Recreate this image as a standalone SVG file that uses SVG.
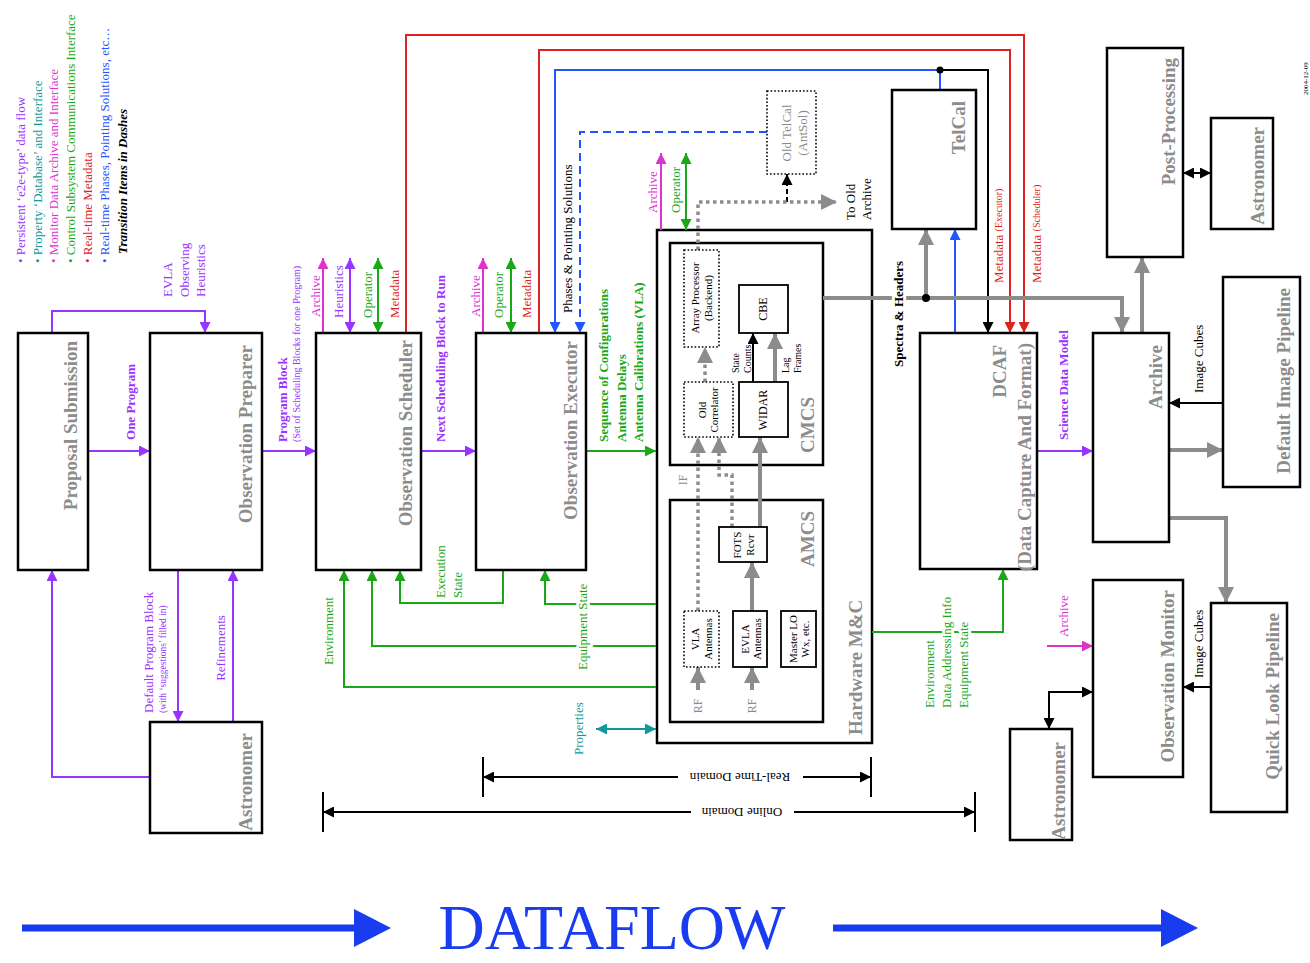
<svg xmlns="http://www.w3.org/2000/svg" width="1310" height="963" viewBox="0 0 1310 963">
<style>
text{font-family:"Liberation Serif","Times New Roman",serif}
.box{fill:#fff;stroke:#000;stroke-width:2.5}
.frame{fill:none;stroke:#000;stroke-width:2.5}
.sbox{fill:#fff;stroke:#000;stroke-width:1.8}
.dbox{fill:#fff;stroke:#000;stroke-width:1.6;stroke-dasharray:1.6 2}
.big{font-size:19px;font-weight:bold;fill:#8c8c8c}
.in{font-size:11px;fill:#000;text-anchor:middle}
.l{font-size:13px}
.b{font-weight:bold}
.s{font-size:10px}
.st{text-anchor:start}
.en{text-anchor:end}
.mid{text-anchor:middle}
.halo{paint-order:stroke;stroke:#fff;stroke-width:6px;stroke-linejoin:round}
.pu{fill:#9933ff}.mg{fill:#dd33cc}.gr{fill:#18a818}.rd{fill:#dd2222}.bl{fill:#2255ff}.tl{fill:#119999}.gy{fill:#8c8c8c}.bk{fill:#000}
.cp{fill:none;stroke:#9933ff;stroke-width:2}
.cm{fill:none;stroke:#dd33cc;stroke-width:2}
.cg{fill:none;stroke:#18a818;stroke-width:2}
.cr{fill:none;stroke:#dd2222;stroke-width:2}
.cb{fill:none;stroke:#2255ff;stroke-width:2}
.ck{fill:none;stroke:#000;stroke-width:2}
.ct{fill:none;stroke:#119999;stroke-width:2}
.cy{fill:none;stroke:#8c8c8c;stroke-width:4}
.cd{fill:none;stroke:#8c8c8c;stroke-width:3.5;stroke-dasharray:3.5 3.5}
</style>
<defs>
<marker id="ap" viewBox="0 0 10 10" refX="10" refY="5" markerWidth="11" markerHeight="11" markerUnits="userSpaceOnUse" orient="auto-start-reverse"><path d="M0,0L10,5L0,10z" fill="#9933ff"/></marker>
<marker id="am" viewBox="0 0 10 10" refX="10" refY="5" markerWidth="11" markerHeight="11" markerUnits="userSpaceOnUse" orient="auto-start-reverse"><path d="M0,0L10,5L0,10z" fill="#dd33cc"/></marker>
<marker id="ag" viewBox="0 0 10 10" refX="10" refY="5" markerWidth="11" markerHeight="11" markerUnits="userSpaceOnUse" orient="auto-start-reverse"><path d="M0,0L10,5L0,10z" fill="#18a818"/></marker>
<marker id="ar" viewBox="0 0 10 10" refX="10" refY="5" markerWidth="11" markerHeight="11" markerUnits="userSpaceOnUse" orient="auto-start-reverse"><path d="M0,0L10,5L0,10z" fill="#dd2222"/></marker>
<marker id="ab" viewBox="0 0 10 10" refX="10" refY="5" markerWidth="11" markerHeight="11" markerUnits="userSpaceOnUse" orient="auto-start-reverse"><path d="M0,0L10,5L0,10z" fill="#2255ff"/></marker>
<marker id="ak" viewBox="0 0 10 10" refX="10" refY="5" markerWidth="11" markerHeight="11" markerUnits="userSpaceOnUse" orient="auto-start-reverse"><path d="M0,0L10,5L0,10z" fill="#000"/></marker>
<marker id="at" viewBox="0 0 10 10" refX="10" refY="5" markerWidth="11" markerHeight="11" markerUnits="userSpaceOnUse" orient="auto-start-reverse"><path d="M0,0L10,5L0,10z" fill="#119999"/></marker>
<marker id="ay" viewBox="0 0 10 10" refX="10" refY="5" markerWidth="16" markerHeight="16" markerUnits="userSpaceOnUse" orient="auto-start-reverse"><path d="M0,0L10,5L0,10z" fill="#8c8c8c"/></marker>
</defs>
<rect width="1310" height="963" fill="#fff"/>

<g id="legend" class="l">
<text transform="translate(20,263) rotate(-90)" dominant-baseline="central" class="pu">• Persistent ‘e2e-type’ data flow</text>
<text transform="translate(37,263) rotate(-90)" dominant-baseline="central" class="tl">• Property ‘Database’ and Interface</text>
<text transform="translate(53,263) rotate(-90)" dominant-baseline="central" class="mg">• Monitor Data Archive and Interface</text>
<text transform="translate(70,263) rotate(-90)" dominant-baseline="central" class="gr">• Control Subsystem Communications Interface</text>
<text transform="translate(87,263) rotate(-90)" dominant-baseline="central" class="rd">• Real-time Metadata</text>
<text transform="translate(104,263) rotate(-90)" dominant-baseline="central" class="bl">• Real-time Phases, Pointing Solutions, etc…</text>
<text transform="translate(122,254) rotate(-90)" dominant-baseline="central" font-weight="bold" font-style="italic">Transition Items in Dashes</text>
<text transform="translate(1306,95) rotate(-90)" dominant-baseline="central" style="font-size:7px">2004-12-09</text>
</g>

<g id="hardware-mc">
<rect class="frame" x="657" y="230" width="215" height="513"/>
<text class="big" transform="translate(855,735) rotate(-90)" dominant-baseline="central">Hardware M&amp;C</text>
</g>
<g id="cmcs">
<rect class="frame" x="670" y="243" width="153" height="222"/>
<text class="big" transform="translate(807,453) rotate(-90)" dominant-baseline="central">CMCS</text>
</g>
<g id="amcs">
<rect class="frame" x="670" y="500" width="153" height="222"/>
<text class="big en" transform="translate(807,511) rotate(-90)" dominant-baseline="central">AMCS</text>
</g>

<g id="connectors">
<!-- purple -->
<path class="cp" d="M88,451H150" marker-end="url(#ap)"/>
<path class="cp" d="M52,333V311H205V333" marker-end="url(#ap)"/>
<path class="cp" d="M262,451H316" marker-end="url(#ap)"/>
<path class="cp" d="M421,451H476" marker-end="url(#ap)"/>
<path class="cp" d="M178,570V722" marker-end="url(#ap)"/>
<path class="cp" d="M233,722V570" marker-end="url(#ap)"/>
<path class="cp" d="M150,777H52V570" marker-end="url(#ap)"/>
<path class="cp" d="M1037,451H1093" marker-end="url(#ap)"/>
<path class="cp" d="M350,258V333" marker-start="url(#ap)" marker-end="url(#ap)"/>
<!-- magenta -->
<path class="cm" d="M323,333V258" marker-end="url(#am)"/>
<path class="cm" d="M483,333V258" marker-end="url(#am)"/>
<path class="cm" d="M661,230V153" marker-end="url(#am)"/>
<path class="cm" d="M1047,646H1093" marker-end="url(#am)"/>
<!-- green -->
<path class="cg" d="M378,258V333" marker-start="url(#ag)" marker-end="url(#ag)"/>
<path class="cg" d="M511,258V333" marker-start="url(#ag)" marker-end="url(#ag)"/>
<path class="cg" d="M686,153V230" marker-start="url(#ag)" marker-end="url(#ag)"/>
<path class="cg" d="M586,451H656" marker-end="url(#ag)"/>
<path class="cg" d="M656,604H545V570" marker-end="url(#ag)"/>
<path class="cg" d="M503,570V603H400V570" marker-end="url(#ag)"/>
<path class="cg" d="M656,646H372V570" marker-end="url(#ag)"/>
<path class="cg" d="M656,687H344V570" marker-end="url(#ag)"/>
<path class="cg" d="M872,632H1003V569" marker-end="url(#ag)"/>
<!-- red -->
<path class="cr" d="M406,333V35H1024V333" marker-end="url(#ar)"/>
<path class="cr" d="M539,333V50H1010V333" marker-end="url(#ar)"/>
<!-- blue -->
<path class="cb" d="M940,90V70H555V333" marker-end="url(#ab)"/>
<path class="cb" d="M955,333V229" marker-end="url(#ab)"/>
<path class="cb" d="M767,132H580V333" stroke-dasharray="8 5" marker-end="url(#ab)"/>
<!-- black -->
<path class="ck" d="M940,70H988V333" marker-end="url(#ak)"/>
<circle cx="940" cy="70" r="3.5" fill="#000"/>
<path class="ck" d="M787,202V174" stroke-dasharray="5 3" marker-end="url(#ak)"/>
<path class="ck" d="M1223,403H1169" marker-end="url(#ak)"/>
<path class="ck" d="M1183,173H1211" marker-start="url(#ak)" marker-end="url(#ak)"/>
<path class="ck" d="M1211,687H1183" marker-end="url(#ak)"/>
<path class="ck" d="M1093,692H1049V729" marker-start="url(#ak)" marker-end="url(#ak)"/>
<path class="ck" d="M753,382V333" marker-end="url(#ak)"/>
<!-- teal -->
<path class="ct" d="M596,729H656" marker-start="url(#at)" marker-end="url(#at)"/>
<!-- gray data paths -->
<path class="cy" d="M823,298H1122V333" marker-end="url(#ay)"/>
<path class="cy" d="M926,298V229" marker-end="url(#ay)"/>
<circle cx="926" cy="298" r="4" fill="#000"/>
<path class="cy" d="M1142,333V257" marker-end="url(#ay)"/>
<path class="cy" d="M1169,450H1223" marker-end="url(#ay)"/>
<path class="cy" d="M1169,518H1226V603" marker-end="url(#ay)"/>
<path class="cy" d="M760,527V437" marker-end="url(#ay)"/>
<path class="cy" d="M752,611V562" marker-end="url(#ay)"/>
<path class="cy" d="M775,382V333" marker-end="url(#ay)"/>
<path class="cy" d="M698,690V667" marker-end="url(#ay)"/>
<path class="cy" d="M752,690V667" marker-end="url(#ay)"/>
<path class="cd" d="M698,611V437" marker-end="url(#ay)"/>
<path class="cd" d="M732,527V475H719V437" marker-end="url(#ay)"/>
<path class="cd" d="M705,382V347" marker-end="url(#ay)"/>
<path class="cd" d="M698,250V202H837" marker-end="url(#ay)"/>
<!-- dimension lines -->
<path class="ck" d="M678,777H483" marker-end="url(#ak)"/>
<path class="ck" d="M803,777H871" marker-end="url(#ak)"/>
<path class="ck" d="M483,757V797M871,757V797"/>
<path class="ck" d="M691,812H323" marker-end="url(#ak)"/>
<path class="ck" d="M794,812H975" marker-end="url(#ak)"/>
<path class="ck" d="M323,792V832M975,792V832"/>
</g>

<g id="labels" class="l">
<text transform="translate(130,402) rotate(-90)" dominant-baseline="central" class="pu b mid">One Program</text>
<text transform="translate(167,297) rotate(-90)" dominant-baseline="central" class="pu">EVLA</text>
<text transform="translate(184,297) rotate(-90)" dominant-baseline="central" class="pu">Observing</text>
<text transform="translate(200,297) rotate(-90)" dominant-baseline="central" class="pu">Heuristics</text>
<text transform="translate(282,442) rotate(-90)" dominant-baseline="central" class="pu b">Program Block</text>
<text transform="translate(296,442) rotate(-90)" dominant-baseline="central" class="pu s">(Set of Scheduling Blocks for one Program)</text>
<text transform="translate(440,442) rotate(-90)" dominant-baseline="central" class="pu b">Next Scheduling Block to Run</text>
<text transform="translate(315,317) rotate(-90)" dominant-baseline="central" class="mg">Archive</text>
<text transform="translate(338,318) rotate(-90)" dominant-baseline="central" class="pu">Heuristics</text>
<text transform="translate(367,318) rotate(-90)" dominant-baseline="central" class="gr">Operator</text>
<text transform="translate(394,318) rotate(-90)" dominant-baseline="central" class="rd">Metadata</text>
<text transform="translate(475,317) rotate(-90)" dominant-baseline="central" class="mg">Archive</text>
<text transform="translate(498,318) rotate(-90)" dominant-baseline="central" class="gr">Operator</text>
<text transform="translate(526,318) rotate(-90)" dominant-baseline="central" class="rd">Metadata</text>
<text transform="translate(567,313) rotate(-90)" dominant-baseline="central" class="bk">Phases &amp; Pointing Solutions</text>
<text transform="translate(603,442) rotate(-90)" dominant-baseline="central" class="gr b">Sequence of Configurations</text>
<text transform="translate(621,442) rotate(-90)" dominant-baseline="central" class="gr b">Antenna Delays</text>
<text transform="translate(638,442) rotate(-90)" dominant-baseline="central" class="gr b">Antenna Calibrations (VLA)</text>
<text transform="translate(652,213) rotate(-90)" dominant-baseline="central" class="mg">Archive</text>
<text transform="translate(675,213) rotate(-90)" dominant-baseline="central" class="gr">Operator</text>
<text transform="translate(850,220) rotate(-90)" dominant-baseline="central" class="bk">To Old</text>
<text transform="translate(866,220) rotate(-90)" dominant-baseline="central" class="bk">Archive</text>
<text transform="translate(898,367) rotate(-90)" dominant-baseline="central" class="bk b halo">Spectra &amp; Headers</text>
<text transform="translate(998,283) rotate(-90)" dominant-baseline="central" class="rd">Metadata <tspan style="font-size:10px">(Executor)</tspan></text>
<text transform="translate(1036,283) rotate(-90)" dominant-baseline="central" class="rd">Metadata <tspan style="font-size:10px">(Scheduler)</tspan></text>
<text transform="translate(1063,440) rotate(-90)" dominant-baseline="central" class="pu b">Science Data Model</text>
<text transform="translate(1198,393) rotate(-90)" dominant-baseline="central" class="bk">Image Cubes</text>
<text transform="translate(1198,678) rotate(-90)" dominant-baseline="central" class="bk">Image Cubes</text>
<text transform="translate(1063,637) rotate(-90)" dominant-baseline="central" class="mg">Archive</text>
<text transform="translate(929,708) rotate(-90)" dominant-baseline="central" class="gr halo">Environment</text>
<text transform="translate(946,708) rotate(-90)" dominant-baseline="central" class="gr halo">Data Addressing Info</text>
<text transform="translate(963,708) rotate(-90)" dominant-baseline="central" class="gr halo">Equipment State</text>
<text transform="translate(148,713) rotate(-90)" dominant-baseline="central" class="pu">Default Program Block</text>
<text transform="translate(163,713) rotate(-90)" dominant-baseline="central" class="pu" style="font-size:9.5px">(with ‘suggestions’ filled in)</text>
<text transform="translate(220,648) rotate(-90)" dominant-baseline="central" class="pu mid">Refinements</text>
<text transform="translate(328,665) rotate(-90)" dominant-baseline="central" class="gr">Environment</text>
<text transform="translate(440,598) rotate(-90)" dominant-baseline="central" class="gr">Execution</text>
<text transform="translate(457,598) rotate(-90)" dominant-baseline="central" class="gr">State</text>
<text transform="translate(582,670) rotate(-90)" dominant-baseline="central" class="gr halo">Equipment State</text>
<text transform="translate(578,755) rotate(-90)" dominant-baseline="central" class="tl">Properties</text>
<text transform="translate(740,777) rotate(180)" dominant-baseline="central" class="bk mid">Real-Time Domain</text>
<text transform="translate(742,812) rotate(180)" dominant-baseline="central" class="bk mid">Online Domain</text>
<text transform="translate(683,480) rotate(-90)" dominant-baseline="central" class="gy mid" style="font-size:12px">IF</text>
<text transform="translate(698,706) rotate(-90)" dominant-baseline="central" class="gy mid" style="font-size:12px">RF</text>
<text transform="translate(752,706) rotate(-90)" dominant-baseline="central" class="gy mid" style="font-size:12px">RF</text>
<text transform="translate(735,373) rotate(-90)" dominant-baseline="central" class="bk s">State</text>
<text transform="translate(747,373) rotate(-90)" dominant-baseline="central" class="bk s">Counts</text>
<text transform="translate(785,373) rotate(-90)" dominant-baseline="central" class="bk s">Lag</text>
<text transform="translate(797,373) rotate(-90)" dominant-baseline="central" class="bk s">Frames</text>
</g>

<g id="array-processor">
<rect class="dbox" x="684" y="250" width="35" height="97"/>
<text class="in" transform="translate(695,298) rotate(-90)" dominant-baseline="central">Array Processor</text>
<text class="in" transform="translate(708,298) rotate(-90)" dominant-baseline="central">(Backend)</text>
</g>
<g id="cbe">
<rect class="sbox" x="739" y="285" width="49" height="48"/>
<text class="in" style="font-size:12px" transform="translate(763,309) rotate(-90)" dominant-baseline="central">CBE</text>
</g>
<g id="old-correlator">
<rect class="dbox" x="684" y="382" width="49" height="55"/>
<text class="in" transform="translate(702,410) rotate(-90)" dominant-baseline="central">Old</text>
<text class="in" transform="translate(714,410) rotate(-90)" dominant-baseline="central">Correlator</text>
</g>
<g id="widar">
<rect class="sbox" x="739" y="382" width="49" height="55"/>
<text class="in" style="font-size:12px" transform="translate(763,410) rotate(-90)" dominant-baseline="central">WIDAR</text>
</g>
<g id="fots-rcvr">
<rect class="sbox" x="719" y="527" width="48" height="35"/>
<text class="in" transform="translate(737,545) rotate(-90)" dominant-baseline="central">FOTS</text>
<text class="in" transform="translate(750,545) rotate(-90)" dominant-baseline="central">Rcvr</text>
</g>
<g id="vla-antennas">
<rect class="dbox" x="684" y="611" width="35" height="56"/>
<text class="in" transform="translate(695,639) rotate(-90)" dominant-baseline="central">VLA</text>
<text class="in" transform="translate(708,639) rotate(-90)" dominant-baseline="central">Antennas</text>
</g>
<g id="evla-antennas">
<rect class="sbox" x="733" y="611" width="34" height="56"/>
<text class="in" transform="translate(745,639) rotate(-90)" dominant-baseline="central">EVLA</text>
<text class="in" transform="translate(757,639) rotate(-90)" dominant-baseline="central">Antennas</text>
</g>
<g id="master-lo">
<rect class="sbox" x="781" y="611" width="35" height="56"/>
<text class="in" transform="translate(793,639) rotate(-90)" dominant-baseline="central">Master LO</text>
<text class="in" transform="translate(805,639) rotate(-90)" dominant-baseline="central">Wx, etc.</text>
</g>
<g id="old-telcal">
<rect class="dbox" x="767" y="91" width="49" height="83"/>
<text class="in gy" style="font-size:13px" transform="translate(786,133) rotate(-90)" dominant-baseline="central">Old TelCal</text>
<text class="in gy" style="font-size:13px" transform="translate(802,133) rotate(-90)" dominant-baseline="central">(AntSol)</text>
</g>

<g id="proposal-submission">
<rect class="box" x="18" y="333" width="70" height="237"/>
<text class="big en" transform="translate(70,341) rotate(-90)" dominant-baseline="central">Proposal Submission</text>
</g>
<g id="observation-preparer">
<rect class="box" x="150" y="333" width="112" height="237"/>
<text class="big en" transform="translate(245,345) rotate(-90)" dominant-baseline="central">Observation Preparer</text>
</g>
<g id="observation-scheduler">
<rect class="box" x="316" y="333" width="105" height="237"/>
<text class="big en" transform="translate(405,340) rotate(-90)" dominant-baseline="central">Observation Scheduler</text>
</g>
<g id="observation-executor">
<rect class="box" x="476" y="333" width="110" height="237"/>
<text class="big en" transform="translate(570,341) rotate(-90)" dominant-baseline="central">Observation Executor</text>
</g>
<g id="astronomer-left">
<rect class="box" x="150" y="722" width="112" height="111"/>
<text class="big en" transform="translate(245,733) rotate(-90)" dominant-baseline="central">Astronomer</text>
</g>
<g id="telcal">
<rect class="box" x="892" y="90" width="84" height="139"/>
<text class="big en" transform="translate(958,101) rotate(-90)" dominant-baseline="central">TelCal</text>
</g>
<g id="dcaf">
<rect class="box" x="920" y="333" width="117" height="236"/>
<text class="big en" transform="translate(999,345) rotate(-90)" dominant-baseline="central">DCAF</text>
<text class="big en" transform="translate(1024,343) rotate(-90)" dominant-baseline="central">(Data Capture And Format)</text>
</g>
<g id="archive">
<rect class="box" x="1093" y="333" width="76" height="209"/>
<text class="big en" transform="translate(1155,345) rotate(-90)" dominant-baseline="central">Archive</text>
</g>
<g id="post-processing">
<rect class="box" x="1107" y="48" width="76" height="209"/>
<text class="big en" transform="translate(1168,58) rotate(-90)" dominant-baseline="central">Post-Processing</text>
</g>
<g id="astronomer-right">
<rect class="box" x="1211" y="118" width="62" height="111"/>
<text class="big en" transform="translate(1257,127) rotate(-90)" dominant-baseline="central">Astronomer</text>
</g>
<g id="default-image-pipeline">
<rect class="box" x="1223" y="277" width="77" height="210"/>
<text class="big en" transform="translate(1283,288) rotate(-90)" dominant-baseline="central">Default Image Pipeline</text>
</g>
<g id="observation-monitor">
<rect class="box" x="1093" y="580" width="90" height="197"/>
<text class="big en" transform="translate(1167,590) rotate(-90)" dominant-baseline="central">Observation Monitor</text>
</g>
<g id="quick-look-pipeline">
<rect class="box" x="1211" y="603" width="76" height="209"/>
<text class="big en" transform="translate(1272,613) rotate(-90)" dominant-baseline="central">Quick Look Pipeline</text>
</g>
<g id="astronomer-bottom-right">
<rect class="box" x="1010" y="729" width="62" height="111"/>
<text class="big en" transform="translate(1058,742) rotate(-90)" dominant-baseline="central">Astronomer</text>
</g>

<g id="dataflow">
<path d="M22,928H362" stroke="#1a3cf0" stroke-width="7" fill="none"/>
<path d="M354,909L391,928L354,947z" fill="#1a3cf0"/>
<path d="M833,928H1168" stroke="#1a3cf0" stroke-width="7" fill="none"/>
<path d="M1161,909L1198,928L1161,947z" fill="#1a3cf0"/>
<text x="612" y="949" text-anchor="middle" style="font-size:64px" fill="#1a3cf0">DATAFLOW</text>
</g>
</svg>
